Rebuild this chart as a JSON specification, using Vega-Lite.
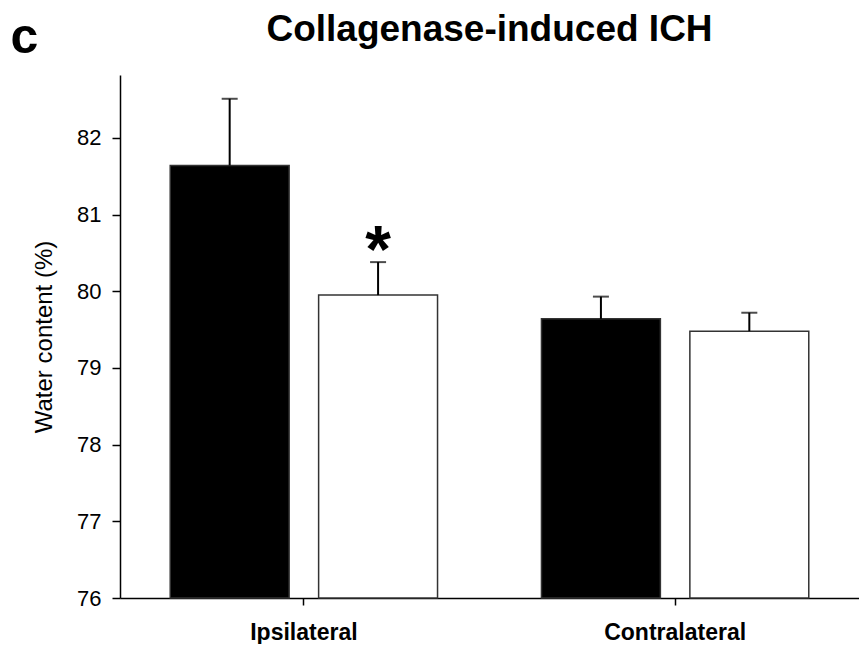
{
  "$schema": "https://vega.github.io/schema/vega-lite/v6.json",
  "background": "white",
  "padding": {"left": 10, "top": 10, "right": 0, "bottom": 0},
  "title": {"text": "c", "anchor": "start", "frame": "bounds", "fontSize": 50, "fontWeight": "bold", "font": "Liberation Sans", "color": "black", "dy": 56, "dx": -22},
  "config": {"view": {"stroke": null}, "font": "Liberation Sans"},
  "data": {"values": [
    {"side": "Ipsilateral", "treatment": "Vehicle", "mean": 81.64, "upper": 82.51, "sig": ""},
    {"side": "Ipsilateral", "treatment": "Treatment", "mean": 79.95, "upper": 80.38, "sig": "*"},
    {"side": "Contralateral", "treatment": "Vehicle", "mean": 79.64, "upper": 79.93, "sig": ""},
    {"side": "Contralateral", "treatment": "Treatment", "mean": 79.48, "upper": 79.72, "sig": ""}
  ]},
  "vconcat": [{
    "width": 739,
    "height": 523,
    "title": {"text": "Collagenase-induced ICH", "fontSize": 37, "fontWeight": "bold", "font": "Liberation Sans", "color": "black", "anchor": "middle", "frame": "group", "offset": 26.5},
    "encoding": {
      "x": {"field": "side", "type": "nominal", "sort": ["Ipsilateral", "Contralateral"],
        "scale": {"paddingInner": 0.2, "paddingOuter": 0.0953},
        "axis": {"title": null, "labelAngle": 0, "labelFontSize": 23, "labelFontWeight": "bold", "labelColor": "black", "labelPadding": 16, "tickSize": 7, "tickWidth": 1.5, "tickColor": "black", "domainColor": "black", "domainWidth": 1.5}},
      "xOffset": {"field": "treatment", "type": "nominal", "sort": ["Vehicle", "Treatment"],
        "scale": {"paddingInner": 0.1987, "paddingOuter": 0.1}}
    },
    "layer": [
      {
        "mark": {"type": "bar", "stroke": "#333", "strokeWidth": 1.5},
        "encoding": {
          "y": {"field": "mean", "type": "quantitative",
            "scale": {"domain": [76, 82.82], "nice": false, "zero": false},
            "axis": {"title": "Water content (%)", "titleFontSize": 24, "titleFontWeight": "normal", "titleColor": "black", "titlePadding": 20,
              "values": [76, 77, 78, 79, 80, 81, 82], "format": "d", "grid": false,
              "labelFontSize": 22, "labelColor": "black", "labelPadding": 11, "tickSize": 8, "tickWidth": 1.5, "tickColor": "black", "domainColor": "black", "domainWidth": 1.5}},
          "y2": {"datum": 76},
          "fill": {"field": "treatment", "type": "nominal", "sort": ["Vehicle", "Treatment"],
            "scale": {"domain": ["Vehicle", "Treatment"], "range": ["black", "white"]}, "legend": null}
        }
      },
      {
        "mark": {"type": "rule", "color": "black", "strokeWidth": 2},
        "encoding": {
          "y": {"field": "mean", "type": "quantitative"},
          "y2": {"field": "upper"}
        }
      },
      {
        "mark": {"type": "tick", "color": "black", "size": 16, "thickness": 2},
        "encoding": {
          "y": {"field": "upper", "type": "quantitative"}
        }
      },
      {
        "transform": [{"filter": "datum.sig != ''"}],
        "mark": {"type": "text", "fontSize": 66, "fontWeight": "bold", "color": "black", "baseline": "alphabetic", "dy": 10},
        "encoding": {
          "y": {"field": "upper", "type": "quantitative"},
          "text": {"field": "sig"}
        }
      }
    ]
  }]
}
